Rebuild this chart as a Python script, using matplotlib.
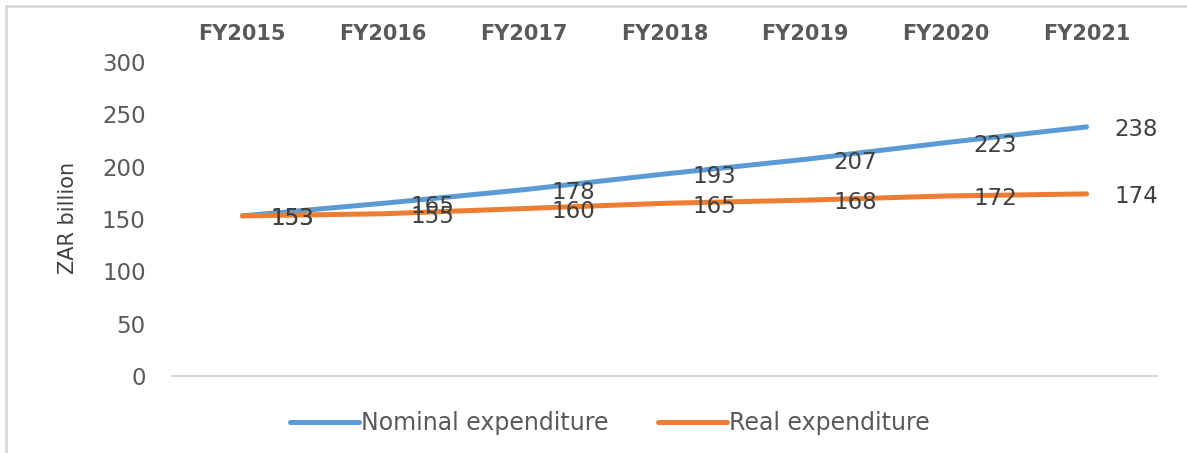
import matplotlib.pyplot as plt
from matplotlib.lines import Line2D

# ------------------------------------------------------------------------------

years = ["FY2015", "FY2016", "FY2017", "FY2018", "FY2019", "FY2020", "FY2021"]
nominal = [153, 165, 178, 193, 207, 223, 238]
real = [153, 155, 160, 165, 168, 172, 174]

BLUE = "#5B9BD5"
ORANGE = "#ED7D31"
TEXT = "#595959"

plt.rcParams["font.family"] = ["DejaVu Sans"]

fig = plt.figure(figsize=(11.87, 4.53), dpi=100)
ax = fig.add_axes([0.1449, 0.170, 0.8298, 0.6931])

xs = range(len(years))
ax.plot(xs, nominal, color=BLUE, lw=3.6, solid_capstyle="round",
        label="Nominal expenditure")
ax.plot(xs, real, color=ORANGE, lw=3.6, solid_capstyle="round",
        label="Real expenditure")

# data labels, to the right of each point
for series in (nominal, real):
    for i, v in enumerate(series):
        ax.annotate(str(v), (i, v), xytext=(20, -2), textcoords="offset points",
                    ha="left", va="center", fontsize=16.5, color="#404040")

ax.set_xlim(-0.5, 6.5)
ax.set_ylim(0, 300)
ax.set_yticks(range(0, 301, 50))

ax.xaxis.tick_top()
ax.set_xticks(list(xs))
ax.set_xticklabels(years, fontsize=15, fontweight="bold", color=TEXT)
ax.tick_params(axis="x", length=0, pad=13)
ax.tick_params(axis="y", length=0, pad=19, labelsize=16.5, labelcolor=TEXT)

for side in ("top", "right", "left"):
    ax.spines[side].set_visible(False)
ax.spines["bottom"].set_color("#D9D9D9")
ax.spines["bottom"].set_linewidth(1.5)

fig.text(68 / 1187, 1 - 218 / 453, "ZAR billion", rotation=90, fontsize=15,
         color="#404040", ha="center", va="center")

fig.legend(loc="center", bbox_to_anchor=(0.514, 0.066), ncol=2, frameon=False,
           fontsize=17, handlelength=2.9, handletextpad=0.1, columnspacing=2.1,
           labelcolor="#595959")

# light frame round the chart area (only top and left show)
fx = 5.5 / 1187
fy = 1 - 5.5 / 453
fig.lines.append(Line2D([fx, fx], [0, fy], transform=fig.transFigure,
                        color="#D9D9D9", lw=2))
fig.lines.append(Line2D([fx, 1], [fy, fy], transform=fig.transFigure,
                        color="#D9D9D9", lw=2))

plt.savefig("out.png", dpi=100, facecolor="w")
